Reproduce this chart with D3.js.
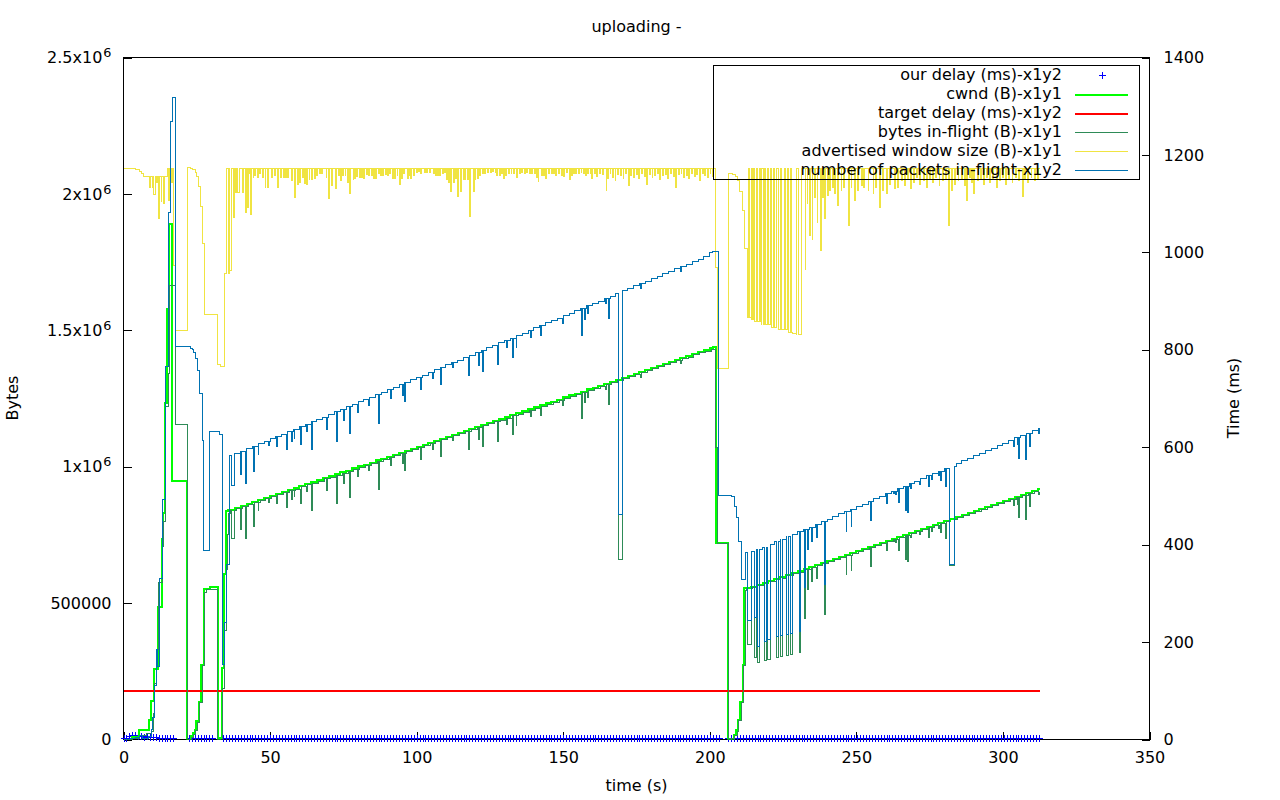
<!DOCTYPE html>
<html><head><meta charset="utf-8">
<script src="https://cdn.jsdelivr.net/npm/d3@7"></script>
<style>
body{margin:0;background:#fff;}
svg{display:block;font-family:"DejaVu Sans",sans-serif;}
</style></head><body>
<svg id="c" width="1280" height="800"></svg>
<script>
// ---------------- DATA ----------------
const titleText = "uploading -";
const xLabel = "time (s)", y1Label = "Bytes", y2Label = "Time (ms)";
const xTicks = [0,50,100,150,200,250,300,350];
const y1Ticks = [0,500,1000,1500,2000,2500];           // kB
const y1TickMain = ["0","500000","1x10","1.5x10","2x10","2.5x10"];
const y1TickSup  = ["","","6","6","6","6"];
const y2Ticks = [0,200,400,600,800,1000,1200,1400];
const legendNames = ["our delay (ms)-x1y2","cwnd (B)-x1y1","target delay (ms)-x1y2",
  "bytes in-flight (B)-x1y1","advertised window size (B)-x1y1","number of packets in-flight-x1y2"];

// our delay (ms) samples [t, ms]
const delayPts = [[0,0],[1,0],[2,4],[3,5],[4,6],[5,4],[6,3],[7,2],[8,3],[9,2],[10,1],[11,1],[12,0],[13,0],[14,0],[15,0],[16,0],[17,0],
[22.3,0],[23.3,0],[24.3,0],[25.3,0],[26.3,0],[27.3,0],[28.3,0],[29.3,0],[30.2,0],
[34,0],[35,0],[36,0],[37,0],[38,0],[39,0],[40,0],[41,0],[42,0],[43,0],[44,0],[45,0],[46,0],[47,0],[48,0],[49,0],[50,0],[51,0],[52,0],[53,0],[54,0],[55,0],[56,0],[57,0],[58,0],[59,0],[60,0],[61,0],[62,0],[63,0],[64,0],[65,0],[66,0],[67,0],[68,0],[69,0],[70,0],[71,0],[72,0],[73,0],[74,0],[75,0],[76,0],[77,0],[78,0],[79,0],[80,0],[81,0],[82,0],[83,0],[84,0],[85,0],[86,0],[87,0],[88,0],[89,0],[90,0],[91,0],[92,0],[93,0],[94,0],[95,0],[96,0],[97,0],[98,0],[99,0],[100,0],[101,0],[102,0],[103,0],[104,0],[105,0],[106,0],[107,0],[108,0],[109,0],[110,0],[111,0],[112,0],[113,0],[114,0],[115,0],[116,0],[117,0],[118,0],[119,0],[120,0],[121,0],[122,0],[123,0],[124,0],[125,0],[126,0],[127,0],[128,0],[129,0],[130,0],[131,0],[132,0],[133,0],[134,0],[135,0],[136,0],[137,0],[138,0],[139,0],[140,0],[141,0],[142,0],[143,0],[144,0],[145,0],[146,0],[147,0],[148,0],[149,0],[150,0],[151,0],[152,0],[153,0],[154,0],[155,0],[156,0],[157,0],[158,0],[159,0],[160,0],[161,0],[162,0],[163,0],[164,0],[165,0],[166,0],[167,0],[168,0],[169,0],[170,0],[171,0],[172,0],[173,0],[174,0],[175,0],[176,0],[177,0],[178,0],[179,0],[180,0],[181,0],[182,0],[183,0],[184,0],[185,0],[186,0],[187,0],[188,0],[189,0],[190,0],[191,0],[192,0],[193,0],[194,0],[195,0],[196,0],[197,0],[198,0],[199,0],[200,0],[201,0],[202,0],[203,0],
[206.3,0],[207.3,0],[208.3,0],[209.3,0],[210.3,0],[211.3,0],[212.3,0],[213.3,0],[214.3,0],[215.3,0],[216.3,0],[217.3,0],[218.3,0],[219.3,0],[220.3,0],[221.3,0],[222.3,0],[223.3,0],[224.3,0],[225.3,0],[226.3,0],[227.3,0],[228.3,0],[229.3,0],[230.3,0],[231.3,0],[232.3,0],[233.3,0],[234.3,0],[235.3,0],[236.3,0],[237.3,0],[238.3,0],[239.3,0],[240.3,0],[241.3,0],[242.3,0],[243.3,0],[244.3,0],[245.3,0],[246.3,0],[247.3,0],[248.3,0],[249.3,0],[250.3,0],[251.3,0],[252.3,0],[253.3,0],[254.3,0],[255.3,0],[256.3,0],[257.3,0],[258.3,0],[259.3,0],[260.3,0],[261.3,0],[262.3,0],[263.3,0],[264.3,0],[265.3,0],[266.3,0],[267.3,0],[268.3,0],[269.3,0],[270.3,0],[271.3,0],[272.3,0],[273.3,0],[274.3,0],[275.3,0],[276.3,0],[277.3,0],[278.3,0],[279.3,0],[280.3,0],[281.3,0],[282.3,0],[283.3,0],[284.3,0],[285.3,0],[286.3,0],[287.3,0],[288.3,0],[289.3,0],[290.3,0],[291.3,0],[292.3,0],[293.3,0],[294.3,0],[295.3,0],[296.3,0],[297.3,0],[298.3,0],[299.3,0],[300.3,0],[301.3,0],[302.3,0],[303.3,0],[304.3,0],[305.3,0],[306.3,0],[307.3,0],[308.3,0],[309.3,0],[310.3,0],[311.3,0],[312.3,0]];

// cwnd (kB), step series [t, kB]
const cwndKB = [[0,0],[2.8,8],[5.2,36],[8.6,72],[9.4,142],[10.4,258],[11.7,485],[13.0,735],[13.5,831],[14.0,1235],[14.9,1578],[15.4,1890],[16.7,947],[21.7,0],[22.9,11],[23.7,23],[24.3,36],[24.9,66],[25.7,139],[26.6,274],[27.4,552],[29.5,558],[32.2,0],[33.0,6],[33.7,262],[34.3,605],[34.9,837],[35.5,840],
[36,842],[38,849],[40,856],[42,864],[44,871],[46,878],[48,885],[50,892],[52,900],[54,907],[56,914],[58,921],[60,929],[62,936],[64,943],[66,950],[68,958],[70,965],[72,972],[74,979],[76,986],[78,994],[80,1001],[82,1008],[84,1015],[86,1023],[88,1030],[90,1037],[92,1044],[94,1051],[96,1059],[98,1066],[100,1073],[102,1080],[104,1088],[106,1095],[108,1102],[110,1109],[112,1117],[114,1124],[116,1131],[118,1138],[120,1145],[122,1153],[124,1160],[126,1167],[128,1174],[130,1181],[132,1189],[134,1196],[136,1203],[138,1210],[140,1218],[142,1225],[144,1232],[146,1239],[148,1246],[150,1254],[152,1261],[154,1268],[156,1275],[158,1283],[160,1290],[162,1297],[164,1304],[166,1311],[168,1319],[170,1326],[172,1333],[174,1340],[176,1348],[178,1355],[180,1362],[182,1369],[184,1376],[186,1384],[188,1391],[190,1398],[192,1405],[194,1413],[196,1420],[198,1427],[200,1434],[201,1438],
[202.1,721],[206.1,0],[206.7,3],[208.1,17],[209.0,33],[209.5,72],[210.3,139],[211.3,274],[211.8,555],
[214,559],[216,566],[218,573],[220,581],[222,588],[224,595],[226,603],[228,610],[230,617],[232,625],[234,632],[236,639],[238,647],[240,654],[242,661],[244,669],[246,676],[248,683],[250,691],[252,698],[254,705],[256,713],[258,720],[260,727],[262,735],[264,742],[266,750],[268,757],[270,764],[272,772],[274,779],[276,786],[278,794],[280,801],[282,808],[284,816],[286,823],[288,830],[290,838],[292,845],[294,852],[296,860],[298,867],[300,874],[302,882],[304,889],[306,896],[308,904],[310,911],[312,918],[312.5,918]];

// target delay (ms)
const targetPts = [[0,100],[312.5,100]];

// bytes in-flight (kB): base steps and short dips [t, width, low]
const inflightKB = [[0,0],[3,3],[5.6,14],[8.0,22],[9.7,30],[10.1,97],[10.6,207],[11.3,330],[12.1,574],[13.2,708],[13.7,800],[14.4,1220],[15.2,1340],[15.6,1663],[17.9,1155],[21.95,0],[23.2,8],[24.0,20],[24.6,33],[25.2,62],[26.0,135],[26.9,270],[27.7,540],[28.3,549],[32.0,0],[33.9,188],[34.5,400],[35.0,624],[35.4,752],[35.8,830],
[36.6,839],[38.6,846],[40.6,853],[42.6,861],[44.6,868],[46.6,875],[48.6,882],[50.6,889],[52.6,897],[54.6,904],[56.6,911],[58.6,918],[60.6,926],[62.6,933],[64.6,940],[66.6,947],[68.6,955],[70.6,962],[72.6,969],[74.6,976],[76.6,983],[78.6,991],[80.6,998],[82.6,1005],[84.6,1012],[86.6,1020],[88.6,1027],[90.6,1034],[92.6,1041],[94.6,1048],[96.6,1056],[98.6,1063],[100.6,1070],[102.6,1077],[104.6,1085],[106.6,1092],[108.6,1099],[110.6,1106],[112.6,1114],[114.6,1121],[116.6,1128],[118.6,1135],[120.6,1142],[122.6,1150],[124.6,1157],[126.6,1164],[128.6,1171],[130.6,1178],[132.6,1186],[134.6,1193],[136.6,1200],[138.6,1207],[140.6,1215],[142.6,1222],[144.6,1229],[146.6,1236],[148.6,1243],[150.6,1251],[152.6,1258],[154.6,1265],[156.6,1272],[158.6,1280],[160.6,1287],[162.6,1294],[164.6,1301],[166.6,1308],[168.6,1316],[170.6,1323],[172.6,1330],[174.6,1337],[176.6,1345],[178.6,1352],[180.6,1359],[182.6,1366],[184.6,1373],[186.6,1381],[188.6,1388],[190.6,1395],[192.6,1402],[194.6,1410],[196.6,1417],[198.6,1424],[200.6,1431],
[202.1,1072],[202.5,717],[206.3,0],[207.2,4],[208.5,15],[209.3,30],[209.9,68],[210.7,135],[211.6,270],[212.1,548],
[212.6,552],[214.6,556],[216.6,563],[218.6,570],[220.6,578],[222.6,585],[224.6,592],[226.6,600],[228.6,607],[230.6,614],[232.6,622],[234.6,629],[236.6,636],[238.6,644],[240.6,651],[242.6,658],[244.6,666],[246.6,673],[248.6,680],[250.6,688],[252.6,695],[254.6,702],[256.6,710],[258.6,717],[260.6,724],[262.6,732],[264.6,739],[266.6,747],[268.6,754],[270.6,761],[272.6,769],[274.6,776],[276.6,783],[278.6,791],[280.6,798],[282.6,805],[284.6,813],[286.6,820],[288.6,827],[290.6,835],[292.6,842],[294.6,849],[296.6,857],[298.6,864],[300.6,871],[302.6,879],[304.6,886],[306.6,893],[308.6,901],[310.6,908],[312.5,908]];
const inflightDips = [[36.9,.8,735],[40.0,.3,768],[41.7,.3,738],[44.3,.4,780],[45.9,.3,841],[49.6,.3,869],[52.2,.3,864],[55.7,.3,851],[57.3,.3,879],[58.2,.3,889],[60.4,.3,864],[62.3,.3,908],[64.3,.3,841],[69.3,.3,911],[72.7,.3,864],[75.1,.3,939],[77.2,.3,888],[79.9,.3,963],[83.7,.3,985],[87.1,.3,916],[91.2,.3,1004],[95.3,.3,1012],[96.0,.3,985],[101.4,.3,1027],[105.5,.3,1064],[108.2,.3,1037],[112.3,.3,1095],[117.8,.3,1064],[121.2,.3,1099],[122.6,.3,1073],[127.7,.3,1092],[130.8,.3,1155],[132.8,.3,1118],[133.9,.3,1151],[139.0,.3,1185],[142.4,.3,1189],[149.9,.3,1223],[156.4,.3,1177],[157.2,.3,1235],[158.3,.3,1254],[164.3,.3,1282],[165.4,.3,1227],[169.0,1.2,660],[176.5,.3,1326],[190.0,.3,1379],
[213.0,1.2,347],[215.3,.6,300],[216.3,.8,283],[218.5,.7,290],[219.7,.9,292],[222.8,.7,302],[224.0,.9,305],[226.3,.7,308],[227.4,.8,310],[230.5,.6,319],[232.3,.4,445],[233.5,.3,549],[234.6,.3,579],[236.3,.3,589],[239.1,.4,458],[246.5,.3,605],[248.2,.3,618],[254.8,.3,635],[260.4,.3,692],[262.8,.3,727],[263.4,.3,722],[264.4,.3,693],[266.8,.3,660],[267.5,.3,652],[268.5,.3,740],[271.6,.3,752],[274.6,.3,741],[275.6,.3,762],[278.1,.3,775],[278.7,.3,759],[280.4,.3,736],[281.8,1.7,639],[303.7,.3,859],[304.9,.3,863],[305.4,.3,813],[307.8,.3,808],[309.1,.3,853],[312.2,.3,898]];

// advertised window size (kB): step series and narrow downward spikes [t, low, width?]
const advKB = [[0,2094],[4.0,2088],[5.6,2082],[6.2,2076],[6.9,2063],[15.0,2094],[17.1,1736],[17.9,1498],[21.9,2095],[22.9,2094],[23.5,2090],[24.4,2080],[25.0,2063],[25.7,2026],[26.3,1955],[26.9,1820],[27.6,1559],[32.2,1373],[33.0,1366],[34.6,1708],[35.3,2094],
[202.1,1730],[202.8,1361],[206.3,2075],[207.7,2070],[208.8,2063],[209.6,2048],[210.3,2009],[211.2,1938],[212.0,1801],[213.0,1547],
[213.3,2094],[213.7,1547],[214.1,1541],[214.2,2094],[214.6,1541],[215.0,2094],[215.4,1534],[216.0,2094],[216.4,1534],[216.9,2094],[217.3,1534],[217.5,1522],[217.8,2094],[218.2,1522],[218.7,2094],[219.1,1522],[219.6,2094],[220.0,1522],[220.6,2094],[221.0,1510],[221.7,2094],[222.1,1510],[222.9,2094],[223.3,1502],[224.0,2094],[224.4,1502],[225.4,2094],[225.8,1502],[226.5,2094],[226.9,1492],[227.6,2094],[228.0,1492],[228.3,1488],[229.5,1483],[229.7,2094],[230.1,1483],[231.2,2094],[312.5,2094]];
const advSpikes = [[8.8,2024],[9.8,2024],[10.4,1997,.5],[11.2,2040],[12.1,1908],[12.8,2050],[13.1,1972],[13.7,1963,.4],[15.3,1975],[16.0,2050],[16.5,2040],
[35.7,1708,.5],[36.3,1718,.7],[36.9,1914],[37.5,1914],[38.1,2006],[38.8,2006,.9],[40.5,2006],[41.7,1932],[42.3,1950],[43.1,2073],[43.4,1926],[44.2,2061],[44.7,2067],[45.7,2061],[46.5,2073],[47.4,2061],[48.3,2024],[49.1,2024],[50.5,2061],[51.4,2067],[52.7,2024],[53.6,2061],[54.5,2061],[55.3,2061],[56.1,2061],[57.3,2048],[58.4,1987],[59.3,2036],[60.2,2042],
[61.0,2061],[61.9,2039],[62.5,2035],[63.3,2051],[64.2,2051],[65.1,2055],[65.9,2067],[66.8,2073],[67.6,2073],[69.1,2061],[69.9,1983],[71.1,2030],[72.2,2020],[73.4,2067],[74.0,2048],[74.8,2067],[75.6,2067],[76.4,2042],[77.1,2000],[78.3,2051],[78.8,2058],[79.5,2063],[80.5,2061],[81.1,2061],[81.8,2055],[83.0,2070],[83.6,2067],[84.6,2067],[85.3,2057],[86.0,2055],[87.0,2073],[87.7,2069],[88.5,2069],[89.4,2070],[90.2,2067],[90.8,2075],[91.9,2055],[92.5,2058],[93.3,2067],[94.2,2035],[94.8,2057],[95.6,2073],[96.8,2058],[97.3,2067],[98.0,2057],[99.0,2067],[99.9,2079],[100.7,2083],[101.4,2073],[102.6,2079],[103.4,2079],[104.5,2079],[105.7,2073],[106.4,2067],[107.1,2067],[107.9,2067],[108.7,2073],[109.4,2079],[110.3,2051],[111.0,2042],[111.7,2008],[112.7,2042],[113.4,2058],[114.0,1991],[115.1,2009],[115.9,2051],[116.5,2051],[117.4,2051],[118.2,1916],[119.3,2008],[119.9,2051],[120.7,2057],[121.6,2067],[122.4,2073],[123.3,2073],[124.2,2079],[125.1,2079],[125.9,2083],[126.8,2079],[127.4,2067],[128.2,2067],[129.1,2073],[129.6,2055],[130.2,2067],[131.3,2073],[132.2,2073],[133.0,2073],[134.2,2061],[135.0,2073],[135.9,2079],[136.8,2073],[137.6,2079],[138.4,2073],[139.3,2073],[140.2,2073],[140.8,2061],[141.4,2045],[142.5,2067],[143.3,2067],[143.9,2055],[145.0,2073],[145.9,2073],[146.7,2073],[147.5,2067],[148.4,2073],[149.3,2069],[150.1,2064],[151.0,2079],[152.1,2051],[152.7,2067],[153.5,2073],[154.3,2075],[155.2,2073],[156.1,2079],[156.9,2073],[157.5,2067],[158.4,2073],[159.2,2073],[159.8,2055],[160.7,2073],[161.5,2064],[162.4,2073],
[163.3,2070],[164.6,2012],[165.1,2055],[166.0,2073],[166.9,2061],[167.7,2048],[168.6,2070],[169.5,2067],[170.4,2058],[171.3,2073],[172.2,2030],[173.1,2067],[174.0,2061],[174.9,2070],[175.8,2055],[176.7,2073],[177.6,2064],[178.5,2036],[179.4,2070],[180.3,2061],[181.2,2067],[182.1,2073],[183.0,2051],[183.9,2067],[184.8,2070],[185.7,2058],[186.6,2073],[187.5,2064],[188.4,2024],[189.3,2070],[190.2,2073],[191.1,2061],[192.0,2067],[192.9,2055],[193.8,2073],[194.7,2064],[195.6,2070],[196.5,2048],[197.4,2073],[198.3,2067],[199.2,2061],[200.1,2073],[201.0,2064],
[232.5,1724],[233.2,1963],[234.0,1846],[234.9,1834],[235.7,1987],[236.6,1895],[237.8,1791],[238.6,1987],[239.1,1908],[240.2,1993],[240.8,2012],[241.9,2024],[242.7,2000],[243.7,1957],[244.8,2012],[245.7,2024],[247.3,1883],[248.2,2024],[249.4,1975],[250.5,2012],[251.7,2030],[252.6,2024],[254.0,2012],[255.7,2000],[256.6,2024],[257.9,1950],[259.0,2012],[260.2,2002],[261.4,2036],[263.1,2018],[264.2,2024],
[265.3,2048],[266.4,2030],[267.4,2055],[268.5,2018],[269.6,2042],[270.6,2061],[271.7,2036],[272.8,2048],[273.9,2024],[275.0,2055],[276.0,2042],[277.1,2061],[278.2,2030],[279.3,2048],[280.4,2055],[281.5,1883],[282.5,2012],[283.6,2036],[284.7,2048],[285.8,2055],[286.9,2030],[287.6,1975],[288.5,2061],[289.4,2042],[290.1,2000],[291.2,2048],[292.3,2055],[293.4,2036],[294.5,2061],[295.5,2042],[296.6,2055],[297.7,2024],[298.8,2048],[299.9,2061],[301.0,2036],[302.0,2055],[303.1,2042],[304.2,2061],[305.3,2048],[306.7,1990],[307.5,2055],[308.5,2042],[309.6,2061],[310.7,2048],[311.8,2055]];

// number of packets in-flight: base steps and dips [t, width, low]
const pktCount = [[0,0],[2.5,2],[4.2,5],[5.6,8],[6.5,3],[8.5,6],[9.4,20],[9.9,45],[10.6,110],[11.1,185],[11.7,150],[12.3,330],[13.2,493],[14.4,765],[15.4,1081],[16.1,1268],[16.8,1317],[17.9,806],[22.9,802],[23.4,800],[24.0,794],[24.7,783],[25.4,758],[26.0,711],[27.0,614],[27.4,387],[29.4,632],[32.9,626],[33.7,153],[34.4,240],[35.3,360],
[36,582],[38,587],[40,592],[42,597],[44,602],[46,607],[48,612],[50,617],[52,622],[54,627],[56,632],[58,637],[60,642],[62,647],[64,652],[66,657],[68,662],[70,668],[72,673],[74,678],[76,683],[78,688],[80,693],[82,698],[84,703],[86,708],[88,713],[90,718],[92,723],[94,728],[96,733],[98,738],[100,743],[102,748],[104,754],[106,759],[108,764],[110,769],[112,774],[114,779],[116,784],[118,789],[120,794],[122,799],[124,804],[126,809],[128,814],[130,819],[132,824],[134,829],[136,834],[138,840],[140,845],[142,850],[144,855],[146,860],[148,865],[150,870],[152,875],[154,880],[156,885],[158,890],[160,895],[162,900],[164,905],[166,910],[168,915],[170,921],[172,926],[174,931],[176,936],[178,941],[180,946],[182,951],[184,956],[186,961],[188,966],[190,971],[192,976],[194,981],[196,986],[198,991],[200,999],[201,1002],
[202.9,501],[207.5,499],[208.3,478],[209.2,456],[209.8,407],[210.7,328],[212.2,384],
[214,385],[216,390],[218,395],[220,400],[222,406],[224,411],[226,416],[228,421],[230,426],[232,431],[234,436],[236,442],[238,447],[240,452],[242,457],[244,463],[246,468],[248,473],[250,478],[252,483],[254,489],[256,494],[258,499],[260,504],[262,509],[264,515],[266,520],[268,525],[270,530],[272,535],[274,541],[276,546],[278,551],[280,556],[282,561],[284,567],[286,572],[288,577],[290,582],[292,587],[294,593],[296,598],[298,603],[300,608],[302,613],[304,619],[306,624],[308,629],[310,634],[312,639],[312.5,639]];
const pktDips = [[36.9,.8,522],[40.0,.3,543],[41.7,.3,526],[44.3,.4,551],[45.9,.3,586],[49.6,.3,604],[52.2,.3,601],[55.7,.3,596],[57.3,.3,612],[58.2,.3,618],[60.4,.3,606],[62.3,.3,632],[64.3,.3,595],[69.3,.3,637],[72.7,.3,612],[75.1,.3,655],[77.2,.3,628],[79.9,.3,671],[83.7,.3,686],[87.1,.3,649],[91.2,.3,701],[95.3,.3,707],[96.0,.3,693],[101.4,.3,718],[105.5,.3,742],[108.2,.3,728],[112.3,.3,763],[117.8,.3,748],[121.2,.3,768],[122.6,.3,756],[127.7,.3,769],[130.8,.3,805],[132.8,.3,785],[133.9,.3,804],[139.0,.3,826],[142.4,.3,830],[149.9,.3,854],[156.4,.3,830],[157.2,.3,863],[158.3,.3,875],[164.3,.3,894],[165.4,.3,864],[169.0,1.2,462],[176.5,.3,925],[190.0,.3,961],
[213.0,1.2,244],[215.3,.6,250],[216.3,.8,191],[218.5,.7,202],[219.7,.9,205],[222.8,.7,212],[224.0,.9,214],[226.3,.7,216],[227.4,.8,218],[230.5,.6,222],[232.3,.4,311],[233.5,.3,390],[234.6,.3,407],[236.3,.3,414],[239.1,.4,319],[246.5,.3,428],[248.2,.3,437],[254.8,.3,450],[260.4,.3,485],[262.8,.3,506],[263.4,.3,503],[264.4,.3,487],[266.8,.3,471],[267.5,.3,466],[268.5,.3,516],[271.6,.3,524],[274.6,.3,520],[275.6,.3,533],[278.1,.3,541],[278.7,.3,532],[280.4,.3,520],[281.8,1.7,359],[303.7,.3,601],[304.9,.3,605],[305.4,.3,577],[307.8,.3,575],[309.1,.3,601],[312.2,.3,628]];

// ---------------- STYLES ----------------
const colDelay="#0000ff", colCwnd="#00ff00", colTarget="#ff0000", colInflight="#2e8b57", colAdv="#f0e442", colPkt="#0072b2";

// ---------------- RENDER ----------------
const svg = d3.select("#c");
const x = d3.scaleLinear().domain([0,350]).range([123.5,1149.5]);
const y1 = d3.scaleLinear().domain([0,2500]).range([739.5,57.5]);
const y2 = d3.scaleLinear().domain([0,1400]).range([739.5,57.5]);
const FONT = "DejaVu Sans";

svg.append("defs").append("clipPath").attr("id","pc").append("rect")
  .attr("x",x(0)).attr("y",y1(2500)).attr("width",x(350)-x(0)).attr("height",y1(0)-y1(2500));

function mergeDips(base, dips){
  const ev = [];
  base.forEach((d,i)=>ev.push({t:d[0],k:1,v:d[1],i}));
  dips.forEach((d,i)=>{ev.push({t:d[0],k:2,v:d[2],i}); ev.push({t:d[0]+d[1],k:0,i});});
  ev.sort((a,b)=>a.t-b.t || a.k-b.k);
  let cur=0, inDip=false; const out=[];
  ev.forEach(e=>{
    if(e.k===1){cur=e.v; if(!inDip) out.push([e.t,cur]);}
    else if(e.k===2){inDip=true; out.push([e.t,e.v]);}
    else {inDip=false; out.push([e.t,cur]);}
  });
  return out;
}
const stepLine = ys => d3.line().x(d=>x(d[0])).y(d=>ys(d[1])).curve(d3.curveStepAfter);

// border (drawn first, like gnuplot)
svg.append("rect").attr("x",x(0)).attr("y",y1(2500)).attr("width",x(350)-x(0)).attr("height",y1(0)-y1(2500))
  .attr("fill","none").attr("stroke","#000").attr("stroke-width",1).attr("shape-rendering","crispEdges");

function styleAxis(g){
  g.select(".domain").remove();
  g.attr("font-family",FONT).attr("font-size",16);
  g.selectAll(".tick line").attr("stroke","#000").attr("shape-rendering","crispEdges");
  g.selectAll(".tick text").attr("fill","#000");
}
const gx = svg.append("g").attr("transform",`translate(0,${y1(0)})`)
  .call(d3.axisBottom(x).tickValues(xTicks).tickSize(-8).tickPadding(12).tickFormat(d3.format("d")));
styleAxis(gx);
const gy1 = svg.append("g").attr("transform",`translate(${x(0)},0)`)
  .call(d3.axisLeft(y1).tickValues(y1Ticks).tickSize(-8).tickPadding(12).tickFormat(""));
styleAxis(gy1);
gy1.selectAll(".tick text").each(function(d,i){
  const t=d3.select(this); t.text(y1TickMain[i]);
  if(y1TickSup[i]) t.append("tspan").attr("dx",1).attr("dy",-6).attr("font-size",12.8).text(y1TickSup[i]);
});
const gy2 = svg.append("g").attr("transform",`translate(${x(350)},0)`)
  .call(d3.axisRight(y2).tickValues(y2Ticks).tickSize(-8).tickPadding(14).tickFormat(d3.format("d")));
styleAxis(gy2);

// delay markers
svg.append("path")
  .attr("d", delayPts.map(d=>{const px=Math.round(x(d[0]))+0.5, py=Math.round(y2(d[1]))-1.5;
     return `M${px-3.5},${py}H${px+3.5}M${px},${py-3.5}V${py+3.5}`;}).join(""))
  .attr("stroke",colDelay).attr("stroke-width",1).attr("fill","none").attr("shape-rendering","crispEdges");

const gData = svg.append("g").attr("clip-path","url(#pc)");
gData.append("path").attr("d",stepLine(y1)(cwndKB))
  .attr("fill","none").attr("stroke",colCwnd).attr("stroke-width",2).attr("shape-rendering","crispEdges");
gData.append("path").attr("d",d3.line().x(d=>x(d[0])).y(d=>y2(d[1]))(targetPts))
  .attr("fill","none").attr("stroke",colTarget).attr("stroke-width",2).attr("shape-rendering","crispEdges");
gData.append("path").attr("d",stepLine(y1)(mergeDips(inflightKB,inflightDips)))
  .attr("fill","none").attr("stroke",colInflight).attr("stroke-width",1).attr("shape-rendering","crispEdges");
gData.append("path").attr("d",stepLine(y1)(mergeDips(advKB, advSpikes.map(s=>[s[0], s[2]||0.3, s[1]]))))
  .attr("fill","none").attr("stroke",colAdv).attr("stroke-width",1).attr("shape-rendering","crispEdges");
gData.append("path").attr("d",stepLine(y2)(mergeDips(pktCount,pktDips)))
  .attr("fill","none").attr("stroke",colPkt).attr("stroke-width",1).attr("shape-rendering","crispEdges");

// titles
svg.append("text").attr("x",636.5).attr("y",32).attr("text-anchor","middle").attr("font-family",FONT).attr("font-size",16).text(titleText);
svg.append("text").attr("x",636.5).attr("y",791).attr("text-anchor","middle").attr("font-family",FONT).attr("font-size",16).text(xLabel);
svg.append("text").attr("transform","translate(18,398) rotate(-90)").attr("text-anchor","middle").attr("font-family",FONT).attr("font-size",16).text(y1Label);
svg.append("text").attr("transform","translate(1239,398) rotate(-90)").attr("text-anchor","middle").attr("font-family",FONT).attr("font-size",16).text(y2Label);

// legend
const lg = svg.append("g");
lg.append("rect").attr("x",713.5).attr("y",65.5).attr("width",426).attr("height",114)
  .attr("fill","none").attr("stroke","#000").attr("shape-rendering","crispEdges");
const legStyle = [[colDelay,0],[colCwnd,2],[colTarget,2],[colInflight,1],[colAdv,1],[colPkt,1]];
legendNames.forEach((name,i)=>{
  const cy = 75 + i*19;
  lg.append("text").attr("x",1062).attr("y",cy+5).attr("text-anchor","end")
    .attr("font-family",FONT).attr("font-size",16).attr("fill","#000").text(name);
  if(i===0){
    lg.append("path").attr("d",`M1099,${cy+0.5}H1106M1102.5,${cy-3}V${cy+4}`)
      .attr("stroke",colDelay).attr("fill","none").attr("shape-rendering","crispEdges");
  } else {
    lg.append("line").attr("x1",1075).attr("x2",1128).attr("y1",cy+0.5).attr("y2",cy+0.5)
      .attr("stroke",legStyle[i][0]).attr("stroke-width",legStyle[i][1]).attr("shape-rendering","crispEdges");
  }
});
</script></body></html>
